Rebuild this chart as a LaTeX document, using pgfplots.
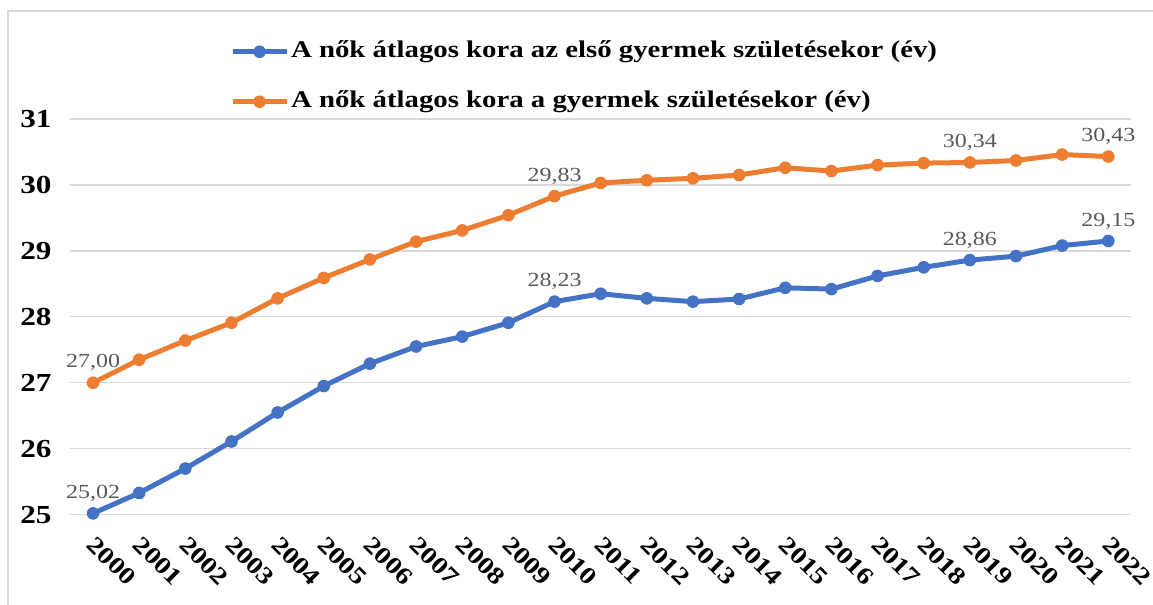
\documentclass[border=0pt]{standalone}
\usepackage{pgfplots}
\pgfplotsset{compat=1.18}
\usepackage{pgfplotstable}
\usepackage{fontspec}
\setmainfont[FakeStretch=1.2]{Liberation Serif}
\usetikzlibrary{calc}

\definecolor{cblue}{HTML}{4472C4}
\definecolor{corange}{HTML}{ED7D31}
\definecolor{cgrid}{HTML}{D9D9D9}
\definecolor{clab}{HTML}{595959}

% first child
\pgfplotstableread{
x y lab
0 25.02 25,02
1 25.33 {}
2 25.70 {}
3 26.11 {}
4 26.55 {}
5 26.95 {}
6 27.29 {}
7 27.55 {}
8 27.70 {}
9 27.91 {}
10 28.23 28,23
11 28.35 {}
12 28.28 {}
13 28.23 {}
14 28.27 {}
15 28.44 {}
16 28.42 {}
17 28.62 {}
18 28.75 {}
19 28.86 28,86
20 28.92 {}
21 29.08 {}
22 29.15 29,15
}\first

% any child
\pgfplotstableread{
x y lab
0 27.00 27,00
1 27.35 {}
2 27.64 {}
3 27.91 {}
4 28.28 {}
5 28.59 {}
6 28.87 {}
7 29.14 {}
8 29.31 {}
9 29.54 {}
10 29.83 29,83
11 30.03 {}
12 30.07 {}
13 30.10 {}
14 30.15 {}
15 30.26 {}
16 30.21 {}
17 30.30 {}
18 30.33 {}
19 30.34 30,34
20 30.37 {}
21 30.46 {}
22 30.43 30,43
}\any

\begin{document}
\begin{tikzpicture}
\begin{axis}[
  scale only axis,
  width=1062pt, height=396pt,
  xmin=-0.5, xmax=22.5, ymin=25, ymax=31,
  xtick={0,...,22},
  xticklabels={2000,2001,2002,2003,2004,2005,2006,2007,2008,2009,2010,2011,2012,2013,2014,2015,2016,2017,2018,2019,2020,2021,2022},
  ytick={25,...,31},
  ymajorgrids, grid style={cgrid, line width=1.3pt},
  axis line style={draw=none},
  major tick length=0pt,
  /pgf/number format/assume math mode=true,
  yticklabel style={font=\bfseries\fontsize{26}{30}\selectfont, xshift=-15pt},
  xticklabel style={font=\bfseries\fontsize{24}{28}\selectfont, xshift=4pt, yshift=-20pt, rotate=-45, anchor=north west, inner sep=0pt},
  clip=false,
  legend style={at={(0.1507,1)}, anchor=south west, yshift=4pt, draw=none, fill=none,
    font=\bfseries\fontsize{24}{28}\selectfont, row sep=24pt, inner sep=0pt,
    nodes={inner sep=2pt, text height=17pt, text depth=5pt}},
  legend cell align=left,
  legend image code/.code={\draw[mark repeat=2, mark phase=2, #1] plot coordinates {(0pt,0pt) (27pt,0pt) (54pt,0pt)};},
  every axis plot/.append style={line width=5pt, mark=*, mark size=5.8pt, mark options={line width=1pt}},
  nodes near coords,
  point meta=explicit symbolic,
  every node near coord/.style={anchor=south, yshift=8pt, font=\fontsize{20}{24}\selectfont, text=clab},
]
\addplot[color=cblue] table[x=x, y=y, meta=lab] {\first};
\addlegendentry{A nők átlagos kora az első gyermek születésekor (év)}
\addplot[color=corange] table[x=x, y=y, meta=lab] {\any};
\addlegendentry{A nők átlagos kora a gyermek születésekor (év)}
\end{axis}
\path[use as bounding box] ($(current axis.south west)+(-70pt,-90pt)$) rectangle ($(current axis.north east)+(21pt,119pt)$);
\draw[cgrid, line width=1.5pt] ($(current axis.south west)+(-62pt,-95pt)$) |- ($(current axis.north east)+(30pt,108pt)$);
\end{tikzpicture}
\end{document}
